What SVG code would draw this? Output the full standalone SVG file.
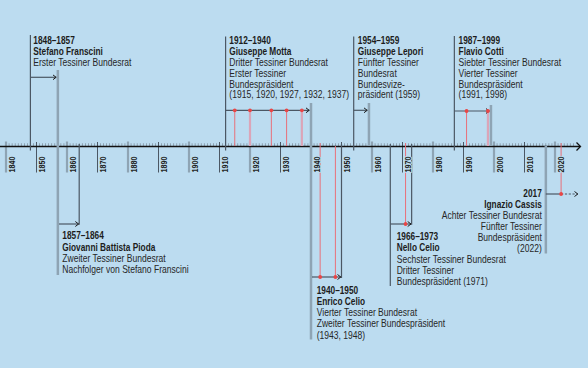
<svg xmlns="http://www.w3.org/2000/svg" width="588" height="368" viewBox="0 0 588 368">
<style>
text{font-family:"Liberation Sans",Arial,sans-serif;fill:#1c1c1c}
.t{font-weight:bold;font-size:10.5px}
.d{font-size:10px;fill:#262626}
.yr{font-weight:bold;font-size:8.8px;stroke:#bcdcf0;stroke-width:2;paint-order:stroke}
.dl{stroke:#4b5764;stroke-width:1.2;fill:none}
.gb{stroke:#8ea4b4;stroke-width:2.5;fill:none}
.rl{stroke:#e8707a;stroke-width:1;fill:none}
.pl{stroke:#dba5b8;stroke-width:2.2;fill:none}
.ar{stroke:#4b5764;stroke-width:1.2;fill:none;marker-end:url(#ah)}
.dt{stroke:#4b5764;stroke-width:1}
.gt{stroke:#8ea4b4;stroke-width:2.2}
.dot{fill:#e84646}
</style>
<defs>
<marker id="ah" markerUnits="userSpaceOnUse" markerWidth="6" markerHeight="7" refX="3.8" refY="3" orient="auto">
<path d="M0.3,0.5 L3.6,3 L0.3,5.5" fill="none" stroke="#1c1c1c" stroke-width="1"/>
</marker>
</defs>
<rect width="588" height="368" fill="#bcdcf0"/>

<g id="axis">
<line x1="5.7" y1="144.9" x2="574" y2="144.9" stroke="#6f7d8a" stroke-width="3.4" stroke-dasharray="0.6 2.45"/>
<g class="gt">
<line x1="6" y1="141.5" x2="6" y2="172.5"/><line x1="67" y1="141.5" x2="67" y2="172.5"/><line x1="128" y1="141.5" x2="128" y2="172.5"/><line x1="189" y1="141.5" x2="189" y2="172.5"/><line x1="250" y1="141.5" x2="250" y2="172.5"/><line x1="311" y1="141.5" x2="311" y2="172.5"/><line x1="372" y1="141.5" x2="372" y2="172.5"/><line x1="433" y1="141.5" x2="433" y2="172.5"/><line x1="494" y1="141.5" x2="494" y2="172.5"/><line x1="555" y1="141.5" x2="555" y2="172.5"/>
</g>
<g class="dt">
<line x1="36.5" y1="142" x2="36.5" y2="172.5"/><line x1="97.5" y1="142" x2="97.5" y2="172.5"/><line x1="158.5" y1="142" x2="158.5" y2="172.5"/><line x1="219.5" y1="142" x2="219.5" y2="172.5"/><line x1="280.5" y1="142" x2="280.5" y2="172.5"/><line x1="341.5" y1="142" x2="341.5" y2="172.5"/><line x1="402.5" y1="142" x2="402.5" y2="172.5"/><line x1="463.5" y1="142" x2="463.5" y2="172.5"/><line x1="524.5" y1="142" x2="524.5" y2="172.5"/>
</g>
<line x1="0" y1="146.5" x2="580" y2="146.5" stroke="#111" stroke-width="1.3"/>
<path d="M576.5,142.5 L580.5,146.5 L576.5,150.5" fill="none" stroke="#111" stroke-width="1.3"/>
</g>

<g id="connectors">
<line class="dl" x1="30.4" y1="35" x2="30.4" y2="150.5"/>
<line class="gb" x1="57.85" y1="70" x2="57.85" y2="275"/>
<line class="ar" x1="30.4" y1="77.3" x2="56.3" y2="77.3"/>
<line class="dl" x1="79.2" y1="144" x2="79.2" y2="224.8"/>
<line class="ar" x1="59" y1="224" x2="78.8" y2="224"/>
<line class="dl" x1="225.6" y1="36.5" x2="225.6" y2="150.5"/>
<line class="gb" x1="311" y1="103" x2="311" y2="339.5"/>
<line class="rl" x1="234.75" y1="110.3" x2="234.75" y2="146"/>
<line class="pl" x1="250" y1="110.3" x2="250" y2="146"/>
<line class="rl" x1="271.35" y1="110.3" x2="271.35" y2="146"/>
<line class="rl" x1="286.6" y1="110.3" x2="286.6" y2="146"/>
<line class="pl" x1="301.85" y1="110.3" x2="301.85" y2="146"/>
<line class="ar" x1="225.6" y1="110.3" x2="309.4" y2="110.3"/>
<line class="dl" x1="341.5" y1="144" x2="341.5" y2="278"/>
<line class="rl" x1="320.15" y1="143" x2="320.15" y2="277"/>
<line class="rl" x1="335.4" y1="146" x2="335.4" y2="277"/>
<line class="ar" x1="312" y1="277" x2="341" y2="277"/>
<line class="dl" x1="353.7" y1="36.5" x2="353.7" y2="150.5"/>
<line class="gb" x1="368.95" y1="103" x2="368.95" y2="146"/>
<line class="ar" x1="353.7" y1="110.3" x2="367.4" y2="110.3"/>
<line class="dl" x1="390.3" y1="144" x2="390.3" y2="286"/>
<line class="dl" x1="411.65" y1="144" x2="411.65" y2="224.8"/>
<line class="rl" x1="405.55" y1="143" x2="405.55" y2="224"/>
<line class="ar" x1="390.3" y1="224" x2="411.2" y2="224"/>
<line class="dl" x1="454.35" y1="36" x2="454.35" y2="150.5"/>
<line class="gb" x1="490.95" y1="105" x2="490.95" y2="146"/>
<line class="rl" x1="466.55" y1="111" x2="466.55" y2="146"/>
<line class="pl" x1="487.9" y1="111" x2="487.9" y2="146"/>
<line class="ar" x1="454.35" y1="111" x2="489.4" y2="111"/>
<line class="gb" x1="545.85" y1="146" x2="545.85" y2="253.5"/>
<line class="rl" x1="561.1" y1="143" x2="561.1" y2="194"/>
<line class="dl" x1="545.85" y1="194" x2="561.1" y2="194"/>
<line class="ar" x1="561.1" y1="194" x2="578" y2="194" stroke="#1c1c1c" stroke-dasharray="2.2 1.6"/>
<g class="dot">
<circle cx="234.75" cy="110.3" r="1.9"/><circle cx="250" cy="110.3" r="1.9"/><circle cx="271.35" cy="110.3" r="1.9"/><circle cx="286.6" cy="110.3" r="1.9"/><circle cx="301.85" cy="110.3" r="1.9"/>
<circle cx="320.15" cy="277" r="1.9"/><circle cx="335.4" cy="277" r="1.9"/>
<circle cx="405.55" cy="224" r="1.9"/>
<circle cx="466.55" cy="111" r="1.9"/><circle cx="487.9" cy="111" r="1.9"/>
<circle cx="561.1" cy="194" r="1.9"/>
</g>
</g>

<g id="year-labels">
<text class="yr" transform="translate(14.7,172.5) rotate(-90) scale(0.82,1)">1840</text>
<text class="yr" transform="translate(45.2,172.5) rotate(-90) scale(0.82,1)">1850</text>
<text class="yr" transform="translate(75.7,172.5) rotate(-90) scale(0.82,1)">1860</text>
<text class="yr" transform="translate(106.2,172.5) rotate(-90) scale(0.82,1)">1870</text>
<text class="yr" transform="translate(136.7,172.5) rotate(-90) scale(0.82,1)">1880</text>
<text class="yr" transform="translate(167.2,172.5) rotate(-90) scale(0.82,1)">1890</text>
<text class="yr" transform="translate(197.7,172.5) rotate(-90) scale(0.82,1)">1900</text>
<text class="yr" transform="translate(228.2,172.5) rotate(-90) scale(0.82,1)">1910</text>
<text class="yr" transform="translate(258.7,172.5) rotate(-90) scale(0.82,1)">1920</text>
<text class="yr" transform="translate(289.2,172.5) rotate(-90) scale(0.82,1)">1930</text>
<text class="yr" transform="translate(319.7,172.5) rotate(-90) scale(0.82,1)">1940</text>
<text class="yr" transform="translate(350.2,172.5) rotate(-90) scale(0.82,1)">1950</text>
<text class="yr" transform="translate(380.7,172.5) rotate(-90) scale(0.82,1)">1960</text>
<text class="yr" transform="translate(411.2,172.5) rotate(-90) scale(0.82,1)">1970</text>
<text class="yr" transform="translate(441.7,172.5) rotate(-90) scale(0.82,1)">1980</text>
<text class="yr" transform="translate(472.2,172.5) rotate(-90) scale(0.82,1)">1990</text>
<text class="yr" transform="translate(502.7,172.5) rotate(-90) scale(0.82,1)">2000</text>
<text class="yr" transform="translate(533.2,172.5) rotate(-90) scale(0.82,1)">2010</text>
<text class="yr" transform="translate(563.7,172.5) rotate(-90) scale(0.82,1)">2020</text>
</g>

<g id="franscini">
<text class="t" transform="translate(33.3,43.5) scale(0.79,1)">1848–1857</text>
<text class="t" transform="translate(33.3,55) scale(0.79,1)">Stefano Franscini</text>
<text class="d" transform="translate(33.3,66) scale(0.855,1)">Erster Tessiner Bundesrat</text>
</g>

<g id="pioda">
<text class="t" transform="translate(62.3,239.3) scale(0.79,1)">1857–1864</text>
<text class="t" transform="translate(62.3,250.7) scale(0.79,1)">Giovanni Battista Pioda</text>
<text class="d" transform="translate(62.3,262) scale(0.855,1)">Zweiter Tessiner Bundesrat</text>
<text class="d" transform="translate(62.3,273) scale(0.855,1)">Nachfolger von Stefano Franscini</text>
</g>

<g id="motta">
<text class="t" transform="translate(229.3,43.5) scale(0.79,1)">1912–1940</text>
<text class="t" transform="translate(229.3,55) scale(0.79,1)">Giuseppe Motta</text>
<text class="d" transform="translate(229.3,66) scale(0.855,1)">Dritter Tessiner Bundesrat</text>
<text class="d" transform="translate(229.3,76.8) scale(0.855,1)">Erster Tessiner</text>
<text class="d" transform="translate(229.3,87.6) scale(0.855,1)">Bundespräsident</text>
<text class="d" transform="translate(229.3,98.4) scale(0.855,1)">(1915, 1920, 1927, 1932, 1937)</text>
</g>

<g id="enrico-celio">
<text class="t" transform="translate(316.7,294) scale(0.79,1)">1940–1950</text>
<text class="t" transform="translate(316.7,305.2) scale(0.79,1)">Enrico Celio</text>
<text class="d" transform="translate(316.7,316.3) scale(0.855,1)">Vierter Tessiner Bundesrat</text>
<text class="d" transform="translate(316.7,327.4) scale(0.855,1)">Zweiter Tessiner Bundespräsident</text>
<text class="d" transform="translate(316.7,338.5) scale(0.855,1)">(1943, 1948)</text>
</g>

<g id="lepori">
<text class="t" transform="translate(357.8,43.5) scale(0.79,1)">1954–1959</text>
<text class="t" transform="translate(357.8,55) scale(0.79,1)">Giuseppe Lepori</text>
<text class="d" transform="translate(357.8,66) scale(0.855,1)">Fünfter Tessiner</text>
<text class="d" transform="translate(357.8,76.8) scale(0.855,1)">Bundesrat</text>
<text class="d" transform="translate(357.8,87.6) scale(0.855,1)">Bundesvize-</text>
<text class="d" transform="translate(357.8,98.4) scale(0.855,1)">präsident (1959)</text>
</g>

<g id="nello-celio">
<text class="t" transform="translate(396.7,240) scale(0.79,1)">1966–1973</text>
<text class="t" transform="translate(396.7,251.3) scale(0.79,1)">Nello Celio</text>
<text class="d" transform="translate(396.7,262.6) scale(0.855,1)">Sechster Tessiner Bundesrat</text>
<text class="d" transform="translate(396.7,273.6) scale(0.855,1)">Dritter Tessiner</text>
<text class="d" transform="translate(396.7,284.6) scale(0.855,1)">Bundespräsident (1971)</text>
</g>

<g id="cotti">
<text class="t" transform="translate(458.6,43.5) scale(0.79,1)">1987–1999</text>
<text class="t" transform="translate(458.6,55) scale(0.79,1)">Flavio Cotti</text>
<text class="d" transform="translate(458.6,66) scale(0.855,1)">Siebter Tessiner Bundesrat</text>
<text class="d" transform="translate(458.6,76.8) scale(0.855,1)">Vierter Tessiner</text>
<text class="d" transform="translate(458.6,87.6) scale(0.855,1)">Bundespräsident</text>
<text class="d" transform="translate(458.6,98.4) scale(0.855,1)">(1991, 1998)</text>
</g>

<g id="cassis" text-anchor="end">
<text class="t" transform="translate(541.8,196.7) scale(0.79,1)">2017</text>
<text class="t" transform="translate(541.8,208) scale(0.79,1)">Ignazio Cassis</text>
<text class="d" transform="translate(541.8,219) scale(0.855,1)">Achter Tessiner Bundesrat</text>
<text class="d" transform="translate(541.8,230) scale(0.855,1)">Fünfter Tessiner</text>
<text class="d" transform="translate(541.8,241) scale(0.855,1)">Bundespräsident</text>
<text class="d" transform="translate(541.8,252) scale(0.855,1)">(2022)</text>
</g>
</svg>
